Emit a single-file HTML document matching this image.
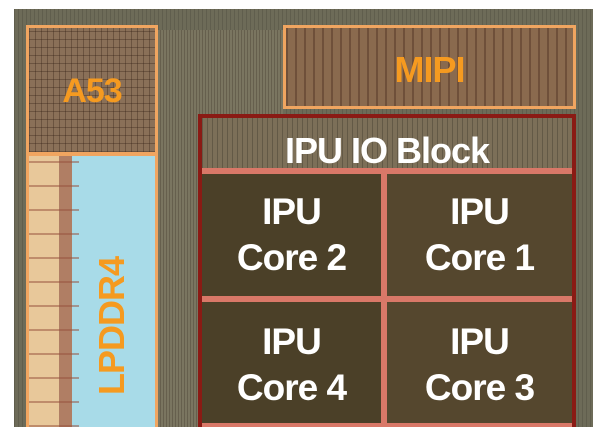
<!DOCTYPE html>
<html style="overflow:hidden"><head><style>
html,body{margin:0;width:606px;height:427px;overflow:hidden}
body{background:#fff;position:relative;font-family:"Liberation Sans",Arial,sans-serif}
div{position:absolute;box-sizing:border-box}
.t{color:#fff;font-weight:bold;text-align:center;font-size:37px;line-height:46px;letter-spacing:-1px}
</style></head><body>
<div style="left:14px;top:9px;width:579px;height:418px;background:#6d6b58;background-image:repeating-linear-gradient(90deg,rgba(0,0,0,.12) 0 1px,transparent 1px 4px)"></div>
<div style="left:157px;top:30px;width:126px;height:397px;background:#7a7560;background-image:repeating-linear-gradient(90deg,rgba(40,30,20,.25) 0 1px,transparent 1px 3px)"></div>
<!-- A53 -->
<div style="left:26px;top:25px;width:132px;height:130px;border:3px solid #f0a560;background:#8a7058;background-image:repeating-linear-gradient(90deg,rgba(50,30,20,.35) 0 1px,transparent 1px 6px),repeating-linear-gradient(0deg,rgba(50,30,20,.35) 0 1px,transparent 1px 8px)"></div>
<div style="left:26px;top:72px;width:132px;font-size:34px;font-weight:bold;color:#f59a20;text-align:center;letter-spacing:-1px">A53</div>
<!-- LPDDR4 -->
<div style="left:26px;top:153px;width:132px;height:285px;border:3px solid #f0a560;background:linear-gradient(90deg,#e8c89a 0 24%,#b07e64 24% 34%,#a8dbe8 34% 100%)"></div>
<div style="left:29px;top:156px;width:50px;height:271px;background-image:repeating-linear-gradient(0deg,rgba(150,80,60,.5) 0 2px,transparent 2px 24px)"></div>
<div style="left:42px;top:306px;width:140px;height:40px;transform:rotate(-90deg);font-size:36px;font-weight:bold;color:#f59a20;text-align:center;line-height:40px;letter-spacing:-1px">LPDDR4</div>
<!-- MIPI -->
<div style="left:283px;top:25px;width:293px;height:84px;border:3px solid #f0a560;background:#8a6a4e;background-image:repeating-linear-gradient(90deg,rgba(60,30,20,.35) 0 2px,transparent 2px 9px)"></div>
<div style="left:283px;top:50px;width:293px;font-size:36px;font-weight:bold;color:#f59a20;text-align:center;letter-spacing:-1px;line-height:40px">MIPI</div>
<!-- IPU -->
<div style="left:198px;top:114px;width:378px;height:330px;border:4px solid #8a1a14;background:#6f6250"></div>
<div style="left:202px;top:118px;width:370px;height:50px;background:#7c6f58;background-image:repeating-linear-gradient(90deg,rgba(0,0,0,.2) 0 1px,transparent 1px 5px)"></div>
<div class="t" style="left:202px;top:131px;width:370px;font-size:36px;line-height:40px">IPU IO Block</div>
<div style="left:202px;top:168px;width:370px;height:6px;background:#d97868"></div>
<div style="left:381px;top:172px;width:6px;height:260px;background:#d97868"></div>
<div style="left:202px;top:296px;width:370px;height:6px;background:#d97868"></div>
<div style="left:202px;top:423px;width:370px;height:6px;background:#d97868"></div>
<div style="left:202px;top:174px;width:179px;height:122px;background:#4b4028"></div>
<div style="left:387px;top:174px;width:185px;height:122px;background:#55472e"></div>
<div style="left:202px;top:302px;width:179px;height:121px;background:#4b4028"></div>
<div style="left:387px;top:302px;width:185px;height:121px;background:#55472e"></div>
<div class="t" style="left:202px;top:189px;width:179px">IPU<br>Core 2</div>
<div class="t" style="left:387px;top:189px;width:185px">IPU<br>Core 1</div>
<div class="t" style="left:202px;top:319px;width:179px">IPU<br>Core 4</div>
<div class="t" style="left:387px;top:319px;width:185px">IPU<br>Core 3</div>
</body></html>
